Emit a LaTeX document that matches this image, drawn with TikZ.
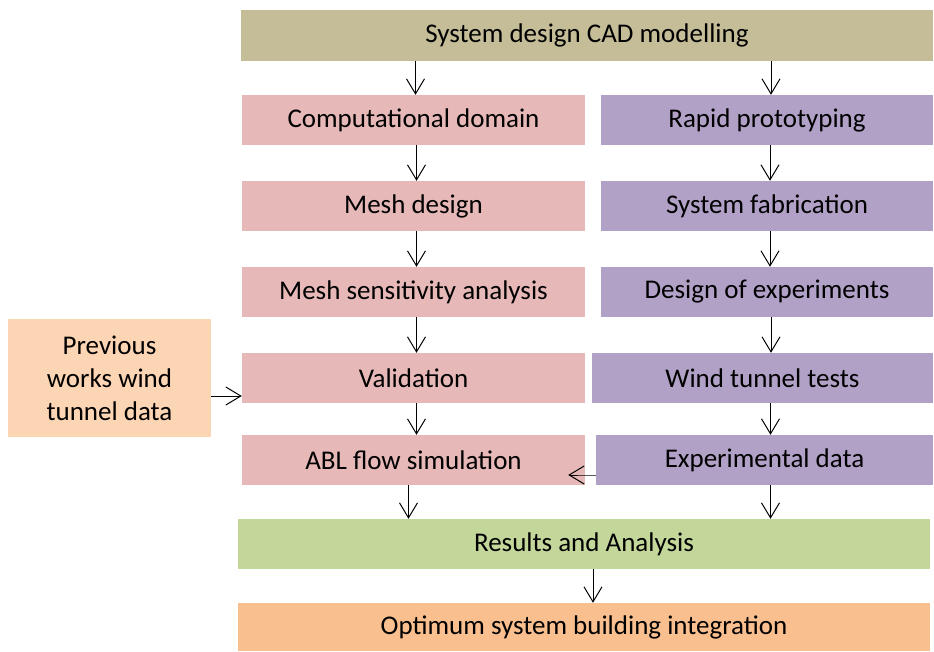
\documentclass[tikz,border=0pt]{standalone}
\usepackage{fontspec}
\setmainfont{Carlito}
\usetikzlibrary{arrows.meta}

\definecolor{cadcol}{RGB}{196,189,151}
\definecolor{simcol}{RGB}{230,184,183}
\definecolor{expcol}{RGB}{178,161,199}
\definecolor{prevcol}{RGB}{252,213,180}
\definecolor{rescol}{RGB}{196,215,155}
\definecolor{optcol}{RGB}{250,191,143}

\begin{document}
\begin{tikzpicture}[x=1pt, y=-1pt,
        box/.style={inner sep=0pt, minimum height=50pt, font=\fontsize{27}{33}\selectfont},
        arr/.style={-{Straight Barb[length=15pt, width=18pt]}, line width=1pt}]
                \useasboundingbox (0, 0) rectangle (934, 651);

                \node[box, fill=cadcol, minimum width=692pt, minimum height=51pt] (cad) at (587, 35.5) {System design CAD modelling};

                \node[box, fill=simcol, minimum width=343pt] (comp) at (413.5, 120) {Computational domain};
                \node[box, fill=simcol, minimum width=343pt] (mesh) at (413.5, 206) {Mesh design};
                \node[box, fill=simcol, minimum width=343pt] (sens) at (413.5, 292) {Mesh sensitivity analysis};
                \node[box, fill=simcol, minimum width=343pt] (valid) at (413.5, 378) {Validation};
                \node[box, fill=simcol, minimum width=343pt] (abl) at (413.5, 460) {ABL flow simulation};

                \node[box, fill=expcol, minimum width=332pt] (rapid) at (767, 120) {Rapid prototyping};
                \node[box, fill=expcol, minimum width=332pt] (fab) at (767, 206) {System fabrication};
                \node[box, fill=expcol, minimum width=332pt] (doe) at (767, 292) {Design of experiments};
                \node[box, fill=expcol, minimum width=341pt] (wind) at (762.5, 378) {Wind tunnel tests};
                \node[box, fill=expcol, minimum width=337pt] (expdata) at (764.5, 460) {Experimental data};

                \node[box, fill=prevcol, minimum width=203pt, minimum height=118pt, align=center] (prev) at (109.5, 378) {Previous\\works wind\\tunnel data};

                \node[box, fill=rescol, minimum width=692pt] (res) at (584, 544) {Results and Analysis};
                \node[box, fill=optcol, minimum width=692pt, minimum height=48pt] (opt) at (584, 627) {Optimum system building integration};

                % simulation branch
                \draw[arr] ([xshift=2pt]cad.south -| comp.north) -- ([xshift=2pt]comp.north);
                \draw[arr] ([xshift=3pt]comp.south) -- ([xshift=3pt]mesh.north);
                \draw[arr] ([xshift=3pt]mesh.south) -- ([xshift=3pt]sens.north);
                \draw[arr] ([xshift=3pt]sens.south) -- ([xshift=3pt]valid.north);
                \draw[arr] ([xshift=3pt]valid.south) -- ([xshift=3pt]abl.north);
                \draw[arr] ([xshift=-5pt]abl.south) -- ([xshift=-5pt]abl.south |- res.north);

                % experimental branch
                \draw[arr] ([xshift=4pt]cad.south -| rapid.north) -- ([xshift=4pt]rapid.north);
                \draw[arr] ([xshift=3pt]rapid.south) -- ([xshift=3pt]fab.north);
                \draw[arr] ([xshift=3pt]fab.south) -- ([xshift=3pt]doe.north);
                \draw[arr] ([xshift=4pt]doe.south) -- ([xshift=4pt]doe.south |- wind.north);
                \draw[arr] ([xshift=8pt]wind.south) -- ([xshift=8pt]wind.south |- expdata.north);
                \draw[arr] ([xshift=6pt]expdata.south) -- ([xshift=6pt]expdata.south |- res.north);

                % cross links
                \draw[arr] ([yshift=-18pt]prev.east) -- ([yshift=-18pt]prev.east -| valid.west);
                \draw[arr] ([yshift=-15pt]expdata.west) -- ([yshift=-15pt]expdata.west -| abl.east) -- ++(-17, 0);
                \draw[arr] ([xshift=9pt]res.south) -- ([xshift=9pt]opt.north);
            \end{tikzpicture}
\end{document}
